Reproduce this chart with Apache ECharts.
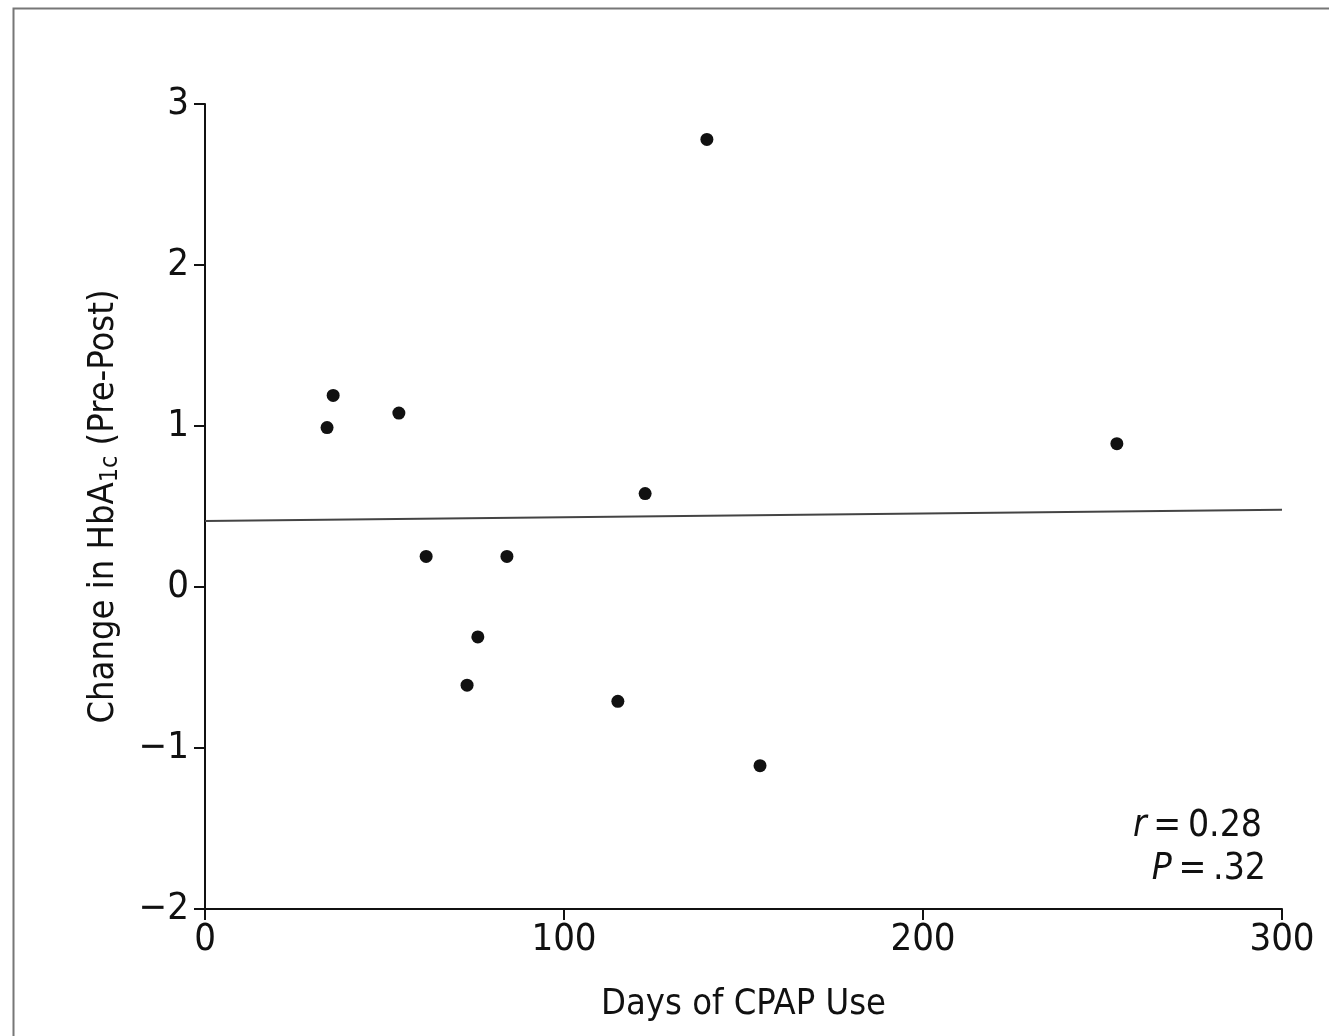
<!DOCTYPE html>
<html>
<head>
<meta charset="utf-8">
<script src="https://cdn.jsdelivr.net/npm/echarts@6/dist/echarts.min.js"></script>
<style>
  html, body { margin: 0; padding: 0; background: #fff; }
  #chart { width: 1329px; height: 1036px; }
</style>
</head>
<body>
<div id="chart"></div>
<script>
// days of CPAP use vs change in HbA1c
const days = [34, 35.7, 54, 61.6, 73, 76, 84.1, 115, 122.6, 139.8, 154.6, 254]
const hbaChange = [0.99, 1.19, 1.08, 0.19, -0.61, -0.31, 0.19, -0.71, 0.58, 2.78, -1.11, 0.89]
// fitted line end points
const fitX = [0, 300]
const fitY = [0.41, 0.48]

const font = '"Liberation Sans Narrow", "DejaVu Sans Condensed", "Liberation Sans", sans-serif'
const ink = '#111'

const chart = echarts.init(document.getElementById('chart'), null, { renderer: 'canvas' })

function statText(label, value, right, top) {
  return {
    type: 'text',
    right: right,
    top: top,
    style: {
      text: '{i|' + label + '}{n|\u2009=\u2009' + value + '}',
      rich: {
        i: { fontFamily: font, fontSize: 37, fontStyle: 'italic', fill: ink },
        n: { fontFamily: font, fontSize: 37, fill: ink }
      }
    }
  }
}

chart.setOption({
  backgroundColor: '#fff',
  animation: false,
  grid: { left: 205, right: 47, top: 104, bottom: 127 },
  xAxis: {
    type: 'value',
    min: 0,
    max: 300,
    interval: 100,
    name: 'Days of CPAP Use',
    nameLocation: 'middle',
    nameGap: 78,
    nameTextStyle: { fontFamily: font, fontSize: 36, color: ink },
    axisLine: { onZero: false, lineStyle: { color: ink, width: 2 } },
    axisTick: { length: 11, lineStyle: { color: ink, width: 2 } },
    axisLabel: { fontFamily: font, fontSize: 38, color: ink, margin: 12 },
    splitLine: { show: false }
  },
  yAxis: {
    type: 'value',
    min: -2,
    max: 3,
    interval: 1,
    name: '{n|Change in HbA}{s|1c}{n| (Pre-Post)}',
    nameLocation: 'middle',
    nameGap: 82,
    nameRotate: 90,
    nameTextStyle: {
      fontFamily: font,
      color: ink,
      rich: {
        n: { fontFamily: font, fontSize: 36, color: ink },
        s: { fontFamily: font, fontSize: 25, color: ink, padding: [13, 0, 0, 0] }
      }
    },
    axisLine: { onZero: false, lineStyle: { color: ink, width: 2 } },
    axisTick: { length: 11, lineStyle: { color: ink, width: 2 } },
    axisLabel: {
      fontFamily: font,
      fontSize: 38,
      color: ink,
      margin: 16,
      formatter: v => String(v).replace('-', '\u2212')
    },
    splitLine: { show: false }
  },
  series: [
    {
      type: 'line',
      data: fitX.map((x, i) => [x, fitY[i]]),
      symbol: 'none',
      lineStyle: { color: '#444', width: 2 },
      silent: true
    },
    {
      type: 'scatter',
      data: days.map((d, i) => [d, hbaChange[i]]),
      symbol: 'circle',
      symbolSize: 13,
      itemStyle: { color: ink, opacity: 1 }
    }
  ],
  graphic: [
    {
      type: 'rect',
      left: 11,
      top: 6,
      shape: { width: 1400, height: 1100 },
      style: { fill: 'none', stroke: '#777', lineWidth: 2 },
      silent: true
    },
    statText('r', '0.28', 67, 808),
    statText('P', '.32', 63, 851)
  ]
})
</script>
</body>
</html>
